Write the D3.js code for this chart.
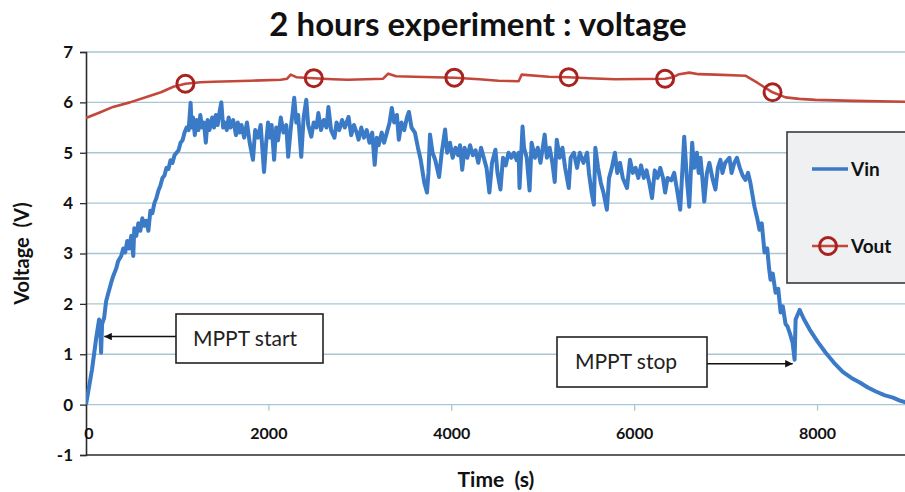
<!DOCTYPE html>
<html>
<head>
<meta charset="utf-8">
<script src="https://cdn.jsdelivr.net/npm/d3@7"></script>
<style>
  html, body { margin: 0; padding: 0; background: #fff; }
  svg { display: block; }
  text { font-family: Lato, "Open Sans", "Liberation Sans", sans-serif; }
</style>
</head>
<body>
<svg id="chart" width="905" height="492"></svg>
<script>
// ---------------- DATA ----------------
const chartTitle = "2 hours experiment : voltage";
const xTitle = "Time  (s)";
const yTitle = "Voltage  (V)";
const xTicks = [0, 2000, 4000, 6000, 8000];
const yTicks = [-1, 0, 1, 2, 3, 4, 5, 6, 7];
const seriesNames = ["Vin", "Vout"];

// Vin: [time (s), voltage (V)]
const vinPoints = [
  [0,0],[66,0.7],[110,1.3],[143,1.69],[154,1.62],[165,1.03],[176,1.6],[198,1.72],[220,2.05],[242,2.2],
  [275,2.42],[297,2.55],[330,2.7],[352,2.85],[385,2.95],[407,3.1],[429,3.02],[451,3.25],[473,3.1],[495,3.35],
  [517,2.95],[528,3.5],[550,3.35],[572,3.6],[594,3.45],[616,3.7],[638,3.55],[660,3.65],[682,3.45],[704,3.85],
  [726,3.8],[748,4.0],[770,4.1],[792,4.25],[814,4.35],[836,4.5],[858,4.55],[880,4.7],[902,4.68],[924,4.85],
  [946,4.8],[968,4.95],[990,5.0],[1012,5.05],[1034,5.2],[1056,5.25],[1078,5.4],[1100,5.5],[1122,5.45],[1144,5.99],
  [1155,5.5],[1170,5.7],[1190,5.35],[1210,5.65],[1230,5.45],[1250,5.75],[1270,5.5],[1290,5.6],[1310,5.2],[1330,5.65],
  [1350,5.45],[1380,5.7],[1400,5.5],[1420,5.75],[1440,5.55],[1460,5.8],[1480,6.0],[1500,5.5],[1520,5.6],[1540,5.45],
  [1560,5.7],[1580,5.5],[1610,5.65],[1640,5.35],[1660,5.6],[1680,5.4],[1700,5.55],[1730,5.3],[1760,5.6],[1790,5.2],
  [1826,4.86],[1850,5.45],[1880,5.3],[1910,5.55],[1947,4.62],[1970,5.2],[1991,5.6],[2010,5.3],[2030,5.55],[2057,4.86],
  [2080,5.5],[2100,5.25],[2130,5.7],[2160,5.4],[2190,5.55],[2211,4.92],[2240,5.5],[2260,5.8],[2277,6.09],[2300,5.6],
  [2320,5.75],[2354,4.92],[2380,5.7],[2409,6.05],[2430,5.55],[2464,5.32],[2490,5.6],[2520,5.5],[2541,5.79],[2570,5.45],
  [2600,5.65],[2630,5.5],[2651,5.91],[2680,5.45],[2717,5.3],[2740,5.6],[2770,5.45],[2800,5.65],[2830,5.5],[2871,5.71],
  [2900,5.35],[2930,5.55],[2960,5.4],[2981,5.26],[3010,5.5],[3040,5.3],[3070,5.45],[3100,5.2],[3130,5.4],[3157,4.76],
  [3180,5.3],[3200,5.15],[3234,5.4],[3260,5.2],[3290,5.4],[3320,5.6],[3344,5.89],[3370,5.6],[3400,5.75],[3421,5.26],
  [3450,5.6],[3480,5.45],[3510,5.7],[3531,5.81],[3560,5.5],[3597,5.4],[3630,5.1],[3660,4.86],[3674,4.7],[3700,4.4],
  [3729,4.21],[3745,4.6],[3762,5.36],[3790,5.0],[3820,4.85],[3861,4.52],[3890,5.0],[3927,5.46],[3950,5.0],[3980,5.2],
  [4010,4.9],[4040,5.1],[4070,4.95],[4090,5.15],[4114,4.66],[4140,5.1],[4170,4.9],[4200,5.15],[4230,4.95],[4260,5.05],
  [4290,4.8],[4320,5.1],[4350,4.9],[4380,4.7],[4411,4.21],[4440,4.8],[4477,5.06],[4500,4.6],[4532,4.27],[4560,4.9],
  [4590,4.75],[4620,5.0],[4650,4.9],[4680,5.0],[4710,4.85],[4731,5.0],[4741,4.3],[4760,5.0],[4774,5.52],[4790,5.1],
  [4820,4.9],[4851,4.25],[4873,5.2],[4910,4.9],[4940,5.1],[4970,4.8],[5016,5.36],[5040,4.9],[5070,5.1],[5100,4.8],
  [5126,4.42],[5148,5.26],[5180,4.9],[5210,5.1],[5240,4.7],[5279,4.3],[5300,4.9],[5335,5.0],[5370,4.7],[5400,5.0],
  [5440,4.8],[5480,5.0],[5500,4.6],[5530,4.2],[5554,3.97],[5570,5.1],[5600,4.7],[5630,4.4],[5660,4.2],[5696,3.87],
  [5720,4.5],[5750,4.7],[5784,5.0],[5810,4.6],[5840,4.8],[5870,4.5],[5916,4.3],[5949,4.86],[5980,4.6],[6010,4.7],
  [6040,4.5],[6070,4.75],[6100,4.5],[6130,4.65],[6160,4.4],[6190,4.1],[6220,4.65],[6250,4.5],[6280,4.7],[6310,4.5],
  [6333,4.21],[6360,4.5],[6400,4.45],[6432,4.6],[6460,4.3],[6498,3.87],[6520,4.6],[6542,5.32],[6570,4.5],[6597,3.93],
  [6629,5.2],[6650,4.7],[6680,5.0],[6700,4.6],[6720,4.9],[6740,4.5],[6761,4.03],[6790,4.6],[6817,4.8],[6850,4.5],
  [6883,4.27],[6910,4.7],[6938,4.86],[6960,4.6],[6990,4.8],[7036,4.9],[7060,4.6],[7090,4.8],[7118,4.9],[7150,4.7],
  [7180,4.55],[7211,4.46],[7240,4.6],[7266,4.4],[7310,3.93],[7340,3.7],[7365,3.47],[7390,3.6],[7420,3.02],[7450,3.1],
  [7470,2.7],[7486,2.48],[7510,2.6],[7541,2.22],[7570,2.3],[7596,1.83],[7620,1.95],[7650,1.6],[7672,1.55],[7700,1.4],
  [7727,1.23],[7749,0.89],[7760,1.69],[7804,1.88],[7850,1.7],[7914,1.49],[8000,1.25],[8089,1.03],[8180,0.83],[8276,0.65],
  [8370,0.53],[8462,0.44],[8550,0.34],[8638,0.26],[8730,0.19],[8825,0.14],[8900,0.08],[8990,0.03]
];

// Vout: [time (s), voltage (V)]
const voutPoints = [
  [0,5.69],[150,5.8],[296,5.91],[480,6.0],[670,6.11],[820,6.2],[955,6.31],[1087,6.37],[1250,6.40],[1394,6.41],
  [1800,6.43],[2129,6.45],[2200,6.47],[2239,6.55],[2300,6.5],[2491,6.48],[2700,6.46],[2865,6.45],[3250,6.47],[3304,6.57],
  [3392,6.52],[3589,6.51],[4028,6.49],[4300,6.46],[4511,6.43],[4731,6.42],[4764,6.55],[5060,6.51],[5279,6.50],[5500,6.48],
  [5784,6.46],[6333,6.47],[6420,6.5],[6487,6.56],[6597,6.59],[6700,6.56],[6882,6.55],[7211,6.53],[7350,6.38],[7508,6.2],
  [7650,6.1],[7800,6.07],[7979,6.05],[8400,6.03],[9000,6.01]
];
// times of Vout points that carry a circle marker
const voutMarkerTimes = [1087, 2491, 4028, 5279, 6333, 7508];

// annotations: label and the (time, voltage) the arrow points to
const annotations = [
  { label: "MPPT start", t: 200, v: 1.35 },
  { label: "MPPT stop",  t: 7728, v: 0.81 }
];

// ---------------- STYLE / LAYOUT ----------------
const W = 905, H = 492;
const plot = { left: 86, right: 909, top: 52, bottom: 455 };
const vinColor = "#3a7ac6";
const voutColor = "#c4473b";
const markerColor = "#a82320";
const gridColor = "#a9c6d4";
const axisColor = "#2b2b2b";

const svg = d3.select("#chart");

const x = d3.scaleLinear().domain([0, 9000]).range([plot.left, plot.right]);
const y = d3.scaleLinear().domain([-1, 7]).range([plot.bottom, plot.top]);

const defs = svg.append("defs");
defs.append("clipPath").attr("id", "clip")
  .append("rect").attr("x", plot.left).attr("y", plot.top - 20)
  .attr("width", W - plot.left).attr("height", plot.bottom - plot.top + 20);
defs.append("marker").attr("id", "arrow")
  .attr("viewBox", "0 0 10 10").attr("refX", 10).attr("refY", 5)
  .attr("markerWidth", 5).attr("markerHeight", 5).attr("orient", "auto-start-reverse")
  .append("path").attr("d", "M0,0 L10,5 L0,10 z").attr("fill", "#111");

// gridlines
svg.append("g").selectAll("line").data(yTicks.filter(d => d > -1)).join("line")
  .attr("x1", plot.left).attr("x2", W)
  .attr("y1", d => y(d)).attr("y2", d => y(d))
  .attr("stroke", gridColor).attr("stroke-width", 1.3);

// x tick marks on zero line
svg.append("g").selectAll("line").data(xTicks.filter(d => d > 0)).join("line")
  .attr("x1", d => x(d)).attr("x2", d => x(d))
  .attr("y1", y(0)).attr("y2", y(0) + 6)
  .attr("stroke", gridColor).attr("stroke-width", 1.3);

// bottom line (-1)
svg.append("line").attr("x1", plot.left).attr("x2", W)
  .attr("y1", y(-1)).attr("y2", y(-1))
  .attr("stroke", axisColor).attr("stroke-width", 1.6);

// y axis
const yAxis = d3.axisLeft(y).tickValues(yTicks).tickSize(6).tickPadding(7).tickFormat(d => String(d));
const gy = svg.append("g").attr("transform", `translate(${plot.left},0)`).call(yAxis);
gy.select(".domain").attr("stroke", axisColor).attr("stroke-width", 1.6);
gy.selectAll(".tick line").attr("stroke", axisColor).attr("stroke-width", 1.3);
gy.selectAll(".tick text").attr("fill", "#111").attr("font-size", 17).attr("font-weight", "bold")
  .style("font-family", "Lato, sans-serif");

// x tick labels
svg.append("g").selectAll("text").data(xTicks).join("text")
  .attr("x", d => x(d) + (d === 0 ? 3 : 0)).attr("y", 439)
  .attr("text-anchor", "middle").attr("font-size", 16).attr("font-weight", "bold").attr("fill", "#111")
  .text(d => d);

// series
const line = d3.line().x(d => x(d[0])).y(d => y(d[1]));
const series = svg.append("g").attr("clip-path", "url(#clip)");
series.append("path").datum(vinPoints).attr("d", line)
  .attr("fill", "none").attr("stroke", vinColor).attr("stroke-width", 4)
  .attr("stroke-linejoin", "round");
series.append("path").datum(voutPoints).attr("d", line)
  .attr("fill", "none").attr("stroke", voutColor).attr("stroke-width", 2.6)
  .attr("stroke-linejoin", "round");
series.append("g").selectAll("circle")
  .data(voutPoints.filter(p => voutMarkerTimes.includes(p[0]))).join("circle")
  .attr("cx", d => x(d[0])).attr("cy", d => y(d[1])).attr("r", 8.5)
  .attr("fill", "none").attr("stroke", markerColor).attr("stroke-width", 3);

// titles
svg.append("text").attr("x", 478).attr("y", 36).attr("text-anchor", "middle")
  .attr("font-size", 33).attr("font-weight", "bold").attr("fill", "#111").text(chartTitle);
svg.append("text").attr("x", 496).attr("y", 487).attr("text-anchor", "middle")
  .attr("font-size", 21).attr("font-weight", "bold").attr("fill", "#111")
  .style("white-space", "pre").attr("xml:space", "preserve").text(xTitle);
svg.append("text").attr("transform", `translate(29,${(plot.top + plot.bottom) / 2}) rotate(-90)`)
  .attr("text-anchor", "middle").attr("font-size", 20).attr("font-weight", "bold").attr("fill", "#111")
  .style("white-space", "pre").attr("xml:space", "preserve").text(yTitle);

// annotations
const annBoxes = [
  { x: 176, y: 314, w: 147, h: 49, tx: 193, ty: 346 },
  { x: 557, y: 337, w: 150, h: 50, tx: 575, ty: 369 }
];
annotations.forEach((a, i) => {
  const b = annBoxes[i];
  const g = svg.append("g");
  const tipX = x(a.t), tipY = y(a.v);
  const fromX = i === 0 ? b.x : b.x + b.w;
  g.append("line").attr("x1", fromX).attr("y1", tipY).attr("x2", tipX).attr("y2", tipY)
    .attr("stroke", "#111").attr("stroke-width", 1.5).attr("marker-end", "url(#arrow)");
  g.append("rect").attr("x", b.x).attr("y", b.y).attr("width", b.w).attr("height", b.h)
    .attr("fill", "#fff").attr("stroke", "#222").attr("stroke-width", 1.6);
  g.append("text").attr("x", b.tx).attr("y", b.ty).attr("font-size", 21).attr("fill", "#222").text(a.label);
});

// legend
const lg = svg.append("g");
lg.append("rect").attr("x", 787).attr("y", 132).attr("width", 130).attr("height", 151)
  .attr("fill", "#eef0f2").attr("stroke", "#3a3a3a").attr("stroke-width", 1.6);
lg.append("line").attr("x1", 812).attr("x2", 848).attr("y1", 169).attr("y2", 169)
  .attr("stroke", vinColor).attr("stroke-width", 3.4);
lg.append("text").attr("x", 851).attr("y", 176).attr("font-size", 19).attr("font-weight", "bold")
  .attr("fill", "#111").text(seriesNames[0]);
lg.append("line").attr("x1", 812).attr("x2", 848).attr("y1", 246).attr("y2", 246)
  .attr("stroke", voutColor).attr("stroke-width", 2.6);
lg.append("circle").attr("cx", 828).attr("cy", 246).attr("r", 8.5)
  .attr("fill", "none").attr("stroke", markerColor).attr("stroke-width", 3);
lg.append("text").attr("x", 851).attr("y", 253).attr("font-size", 19).attr("font-weight", "bold")
  .attr("fill", "#111").text(seriesNames[1]);
</script>
</body>
</html>
